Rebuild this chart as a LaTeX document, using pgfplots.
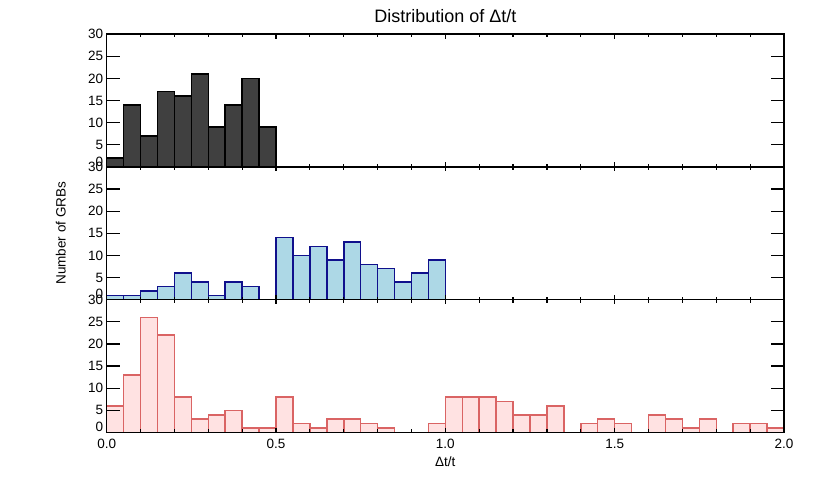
\documentclass[border=0pt]{standalone}
\usepackage{fontspec}
\setmainfont{Liberation Sans}
\usepackage{pgfplots}
\pgfplotsset{compat=1.18}

\definecolor{darkfill}{HTML}{404040}
\definecolor{bluefill}{HTML}{ADD8E6}
\definecolor{blueedge}{HTML}{10108C}
\definecolor{pinkfill}{HTML}{FFE2E2}
\definecolor{pinkedge}{HTML}{DA6464}

\pgfplotsset{
  panel/.style={
    scale only axis,
    width=677.3pt, height=132.8pt,
    anchor=south west,
    xmin=0, xmax=2, ymin=0, ymax=30,
    axis on top,
    axis line style={line width=1.3pt},
    every tick/.style={line width=1.2pt, black},
    tick align=inside,
    xtick={0,0.5,...,2}, minor x tick num=4,
    xtick style={/pgfplots/major tick length=4.5pt, /pgfplots/minor tick length=3pt},
    ytick={5,10,...,30},
    ytick style={/pgfplots/major tick length=13pt},
    extra y ticks={0},
    extra y tick style={yticklabel style={yshift=5.5pt}},
    tick label style={font=\fontsize{13.5}{15}\selectfont},
    /pgf/number format/assume math mode=true,
    xticklabels={},
    bar/.style={ybar interval, line width=1.5pt},
  },
}

\begin{document}
\begin{tikzpicture}
\useasboundingbox (0,0) rectangle (815pt,498pt);

% top panel
\begin{axis}[panel, at={(106.7pt,331.1pt)},
  title={Distribution of Δt/t},
  every axis title/.style={font=\fontsize{18}{20}\selectfont, at={(axis description cs:0.5,1)}, anchor=base, yshift=11.6pt}]
  \addplot[bar, fill=darkfill, draw=black] coordinates {
    (0.00,2) (0.05,14) (0.10,7) (0.15,17) (0.20,16) (0.25,21)
    (0.30,9) (0.35,14) (0.40,20) (0.45,9) (0.50,9)
  };
\end{axis}

% middle panel
\begin{axis}[panel, at={(106.7pt,198.3pt)},
  ylabel={Number of GRBs},
  every axis y label/.style={at={(axis description cs:0,0.5)}, rotate=90, anchor=base, yshift=41pt,
    font=\fontsize{13.5}{15}\selectfont}]
  \addplot[bar, fill=bluefill, draw=blueedge] coordinates {
    (0.00,1) (0.05,1) (0.10,2) (0.15,3) (0.20,6) (0.25,4) (0.30,1)
    (0.35,4) (0.40,3) (0.45,0) (0.50,14) (0.55,10) (0.60,12) (0.65,9)
    (0.70,13) (0.75,8) (0.80,7) (0.85,4) (0.90,6) (0.95,9) (1.00,9)
  };
\end{axis}

% bottom panel
\begin{axis}[panel, at={(106.7pt,65.5pt)},
  xticklabels={0.0,0.5,1.0,1.5,2.0},
  xticklabel style={yshift=-3pt},
  xlabel={Δt/t},
  every axis x label/.style={at={(axis description cs:0.5,0)}, anchor=base, yshift=-34.5pt,
    font=\fontsize{13.5}{15}\selectfont}]
  \addplot[bar, fill=pinkfill, draw=pinkedge] coordinates {
    (0.00,6) (0.05,13) (0.10,26) (0.15,22) (0.20,8) (0.25,3) (0.30,4)
    (0.35,5) (0.40,1) (0.45,1) (0.50,8) (0.55,2) (0.60,1) (0.65,3)
    (0.70,3) (0.75,2) (0.80,1) (0.85,0) (0.90,0) (0.95,2) (1.00,8)
    (1.05,8) (1.10,8) (1.15,7) (1.20,4) (1.25,4) (1.30,6) (1.35,0)
    (1.40,2) (1.45,3) (1.50,2) (1.55,0) (1.60,4) (1.65,3) (1.70,1)
    (1.75,3) (1.80,0) (1.85,2) (1.90,2) (1.95,1) (2.00,1)
  };
\end{axis}
\end{tikzpicture}
\end{document}
